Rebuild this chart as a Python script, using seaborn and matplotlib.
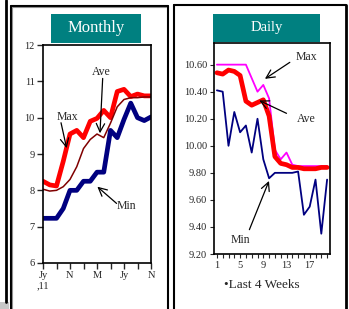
import seaborn as sns
import pandas as pd
import numpy as np
import matplotlib.pyplot as plt
from matplotlib.patches import Rectangle
from matplotlib.lines import Line2D

# monthly data, Jul 2011 .. Nov 2012
months = list(range(17))
m_max = [8.25, 8.15, 8.12, 8.8, 9.55, 9.65, 9.45, 9.9, 9.98, 10.2, 10.0, 10.72, 10.78, 10.58, 10.65, 10.6, 10.6]
m_ave = [8.03, 7.98, 8.0, 8.1, 8.3, 8.65, 9.15, 9.4, 9.55, 9.45, 9.85, 10.3, 10.5, 10.55, 10.55, 10.57, 10.57]
m_min = [7.23, 7.23, 7.23, 7.5, 8.0, 8.0, 8.25, 8.25, 8.5, 8.5, 9.65, 9.45, 9.95, 10.4, 10.0, 9.92, 10.02]
m_ticklabels = ['Jy\n,11', 'N', 'M', 'Jy', 'N']

# daily data, last 4 weeks
days = list(range(1, 21))
d_max = [10.6, 10.6, 10.6, 10.6, 10.6, 10.6, 10.5, 10.4, 10.45, 10.35, 9.97, 9.9, 9.95, 9.86, 9.85, 9.85, 9.85, 9.85, 9.85, 9.85]
d_ave = [10.54, 10.53, 10.56, 10.55, 10.52, 10.33, 10.3, 10.32, 10.34, 10.22, 9.92, 9.87, 9.86, 9.84, 9.84, 9.83, 9.83, 9.83, 9.84, 9.84]
d_min = [10.41, 10.4, 10.0, 10.25, 10.1, 10.15, 9.95, 10.2, 9.9, 9.76, 9.8, 9.8, 9.8, 9.8, 9.81, 9.49, 9.55, 9.75, 9.35, 9.75]

dfm = pd.DataFrame({'m': months, 'Max': m_max, 'Ave': m_ave, 'Min': m_min})
dfd = pd.DataFrame({'d': days, 'Max': d_max, 'Ave': d_ave, 'Min': d_min})

sns.set_style('white')
plt.rcParams['font.family'] = ['Liberation Serif', 'DejaVu Serif']

W, H = 349, 309
fig = plt.figure(figsize=(W / 100, H / 100), dpi=100)

def fx(px):
    return px / W

def fy(py):
    return 1 - py / H

ax1 = fig.add_axes([fx(43), fy(263), fx(151) - fx(43), fy(45) - fy(263)])
ax2 = fig.add_axes([fx(214), fy(254), fx(330) - fx(214), fy(43) - fy(254)])

#%% Monthly
sns.lineplot(data=dfm, x='m', y='Max', color='#ff0000', lw=3.4, ax=ax1)
sns.lineplot(data=dfm, x='m', y='Ave', color='#800000', lw=1.1, ax=ax1)
sns.lineplot(data=dfm, x='m', y='Min', color='#000080', lw=3.4, ax=ax1)
ax1.set_xlim(0, 16)
ax1.set_ylim(6, 12)
ax1.set_xticks([0, 4, 8, 12, 16])
ax1.set_xticklabels(m_ticklabels)
ax1.set_xticks([2, 6, 10, 14], minor=True)
ax1.set_yticks(range(6, 13))
ax1.tick_params(axis='both', which='both', direction='out', length=4, width=1, labelsize=7.5, pad=2, bottom=True, left=True)
ax1.set_xlabel('')
ax1.set_ylabel('')

arrow = dict(arrowstyle='->,head_length=0.6,head_width=0.3', color='black', lw=0.9, shrinkA=0, shrinkB=0)
ax1.annotate('', xy=(3.5, 9.16), xytext=(2.67, 9.86), arrowprops=arrow)
ax1.text(3.63, 10.03, 'Max', fontsize=8.5, ha='center', va='center')
ax1.annotate('', xy=(8.44, 9.57), xytext=(8.84, 11.08), arrowprops=arrow)
ax1.text(8.69, 11.27, 'Ave', fontsize=8.5, ha='center', va='center')
ax1.annotate('', xy=(8.05, 8.10), xytext=(10.9, 7.64), arrowprops=arrow)
ax1.text(12.3, 7.57, 'Min', fontsize=8.5, ha='center', va='center')

#%% Daily
sns.lineplot(data=dfd, x='d', y='Max', color='#ff00ff', lw=1.3, ax=ax2)
sns.lineplot(data=dfd, x='d', y='Ave', color='#ff0000', lw=3.4, ax=ax2)
sns.lineplot(data=dfd, x='d', y='Min', color='#000080', lw=1.3, ax=ax2)
ax2.set_xlim(0.5, 20.5)
ax2.set_ylim(9.2, 10.76)
ax2.set_xticks([1, 5, 9, 13, 17])
ax2.set_xticks(days, minor=True)
ax2.set_yticks(np.arange(9.2, 10.61, 0.2))
ax2.yaxis.set_major_formatter(plt.FormatStrFormatter('%.2f'))
ax2.tick_params(axis='both', which='both', direction='out', length=3, width=0.8, labelsize=7.5, pad=2, bottom=True, left=True)
ax2.set_xlabel('')
ax2.set_ylabel('')

ax2.annotate('', xy=(9.28, 10.495), xytext=(13.57, 10.617), arrowprops=arrow)
ax2.text(16.43, 10.66, 'Max', fontsize=8.5, ha='center', va='center')
ax2.annotate('', xy=(8.3, 10.335), xytext=(13.0, 10.24), arrowprops=arrow)
ax2.text(16.43, 10.20, 'Ave', fontsize=8.5, ha='center', va='center')
ax2.annotate('', xy=(9.98, 9.74), xytext=(6.6, 9.38), arrowprops=arrow)
ax2.text(5.03, 9.30, 'Min', fontsize=8.5, ha='center', va='center')

for ax in (ax1, ax2):
    for s in ax.spines.values():
        s.set_color('black')
        s.set_linewidth(1.2)

fig.text(fx(262), fy(285), '\u2022Last 4 Weeks', fontsize=9.5, ha='center', va='center')

# title boxes
fig.add_artist(Rectangle((fx(51), fy(43)), fx(141) - fx(51), fy(14) - fy(43), transform=fig.transFigure, facecolor='#008080', edgecolor='none', zorder=5))
fig.text(fx(96), fy(28.5), 'Monthly', color='white', fontsize=12, ha='center', va='center', zorder=6)
fig.add_artist(Rectangle((fx(213), fy(42)), fx(320) - fx(213), fy(14) - fy(42), transform=fig.transFigure, facecolor='#008080', edgecolor='none', zorder=5))
fig.text(fx(266.5), fy(28), 'Daily', color='white', fontsize=10.5, ha='center', va='center', zorder=6)

# panel frames
def seg(x0, y0, x1, y1, c='black', w=1.5):
    fig.add_artist(Line2D([fx(x0), fx(x1)], [fy(y0), fy(y1)], transform=fig.transFigure, color=c, lw=w, zorder=4))

seg(6, 0, 6, 302, w=2.0)
fig.add_artist(Rectangle((0, 0), fx(9), fy(302), transform=fig.transFigure, facecolor='#c8c8c8', edgecolor='none', zorder=3))
seg(10.5, 5.5, 10.5, 309)
seg(10.5, 5.5, 168, 5.5)
seg(12, 7, 12, 309, c='#909090', w=0.8)
seg(12, 7, 166, 7, c='#909090', w=0.8)
seg(168, 5.5, 168, 309)
seg(174, 4.5, 174, 309)
seg(174, 4.5, 346, 4.5)
seg(346, 4.5, 346, 309, w=2.0)

fig.savefig('out.png', dpi=100)
